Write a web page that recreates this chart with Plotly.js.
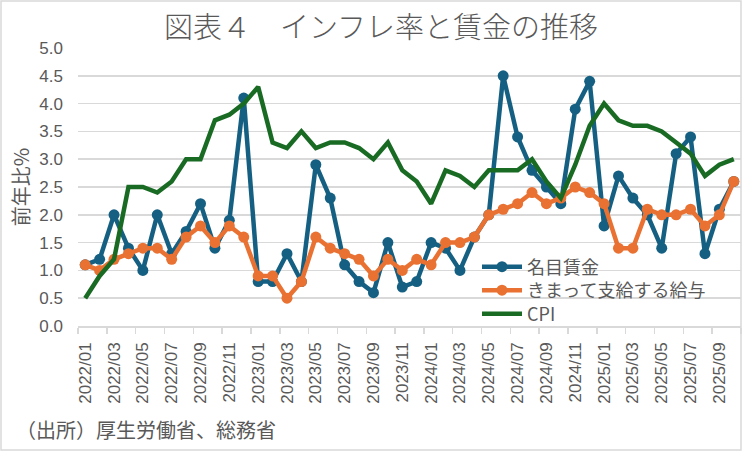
<!DOCTYPE html>
<html>
<head>
<meta charset="utf-8">
<script src="https://cdn.plot.ly/plotly-3.0.1.min.js"></script>
<style>
  html, body { margin: 0; padding: 0; background: #fff; }
  #chart { width: 742px; height: 451px; }
</style>
</head>
<body>
<div id="chart"></div>
<script>
/* -------------------- Data -------------------- */

const months = [
  "2022/01", "2022/02", "2022/03", "2022/04", "2022/05", "2022/06",
  "2022/07", "2022/08", "2022/09", "2022/10", "2022/11", "2022/12",
  "2023/01", "2023/02", "2023/03", "2023/04", "2023/05", "2023/06",
  "2023/07", "2023/08", "2023/09", "2023/10", "2023/11", "2023/12",
  "2024/01", "2024/02", "2024/03", "2024/04", "2024/05", "2024/06",
  "2024/07", "2024/08", "2024/09", "2024/10", "2024/11", "2024/12",
  "2025/01", "2025/02", "2025/03", "2025/04", "2025/05", "2025/06",
  "2025/07", "2025/08", "2025/09", "2025/10",
];

// 名目賃金
const nominalWage = [
  1.1, 1.2, 2.0, 1.4, 1.0, 2.0, 1.3, 1.7, 2.2, 1.4, 1.9, 4.1,
  0.8, 0.8, 1.3, 0.8, 2.9, 2.3, 1.1, 0.8, 0.6, 1.5, 0.7, 0.8,
  1.5, 1.4, 1.0, 1.6, 2.0, 4.5, 3.4, 2.8, 2.5, 2.2, 3.9, 4.4,
  1.8, 2.7, 2.3, 2.0, 1.4, 3.1, 3.4, 1.3, 2.1, 2.6,
];

// きまって支給する給与
const scheduledPay = [
  1.1, 1.0, 1.2, 1.3, 1.4, 1.4, 1.2, 1.6, 1.8, 1.5, 1.8, 1.6,
  0.9, 0.9, 0.5, 0.8, 1.6, 1.4, 1.3, 1.2, 0.9, 1.2, 1.0, 1.2,
  1.1, 1.5, 1.5, 1.6, 2.0, 2.1, 2.2, 2.4, 2.2, 2.3, 2.5, 2.4,
  2.2, 1.4, 1.4, 2.1, 2.0, 2.0, 2.1, 1.8, 2.0, 2.6,
];

// CPI
const cpi = [
  0.5, 0.9, 1.2, 2.5, 2.5, 2.4, 2.6, 3.0, 3.0, 3.7, 3.8, 4.0,
  4.3, 3.3, 3.2, 3.5, 3.2, 3.3, 3.3, 3.2, 3.0, 3.3, 2.8, 2.6,
  2.2, 2.8, 2.7, 2.5, 2.8, 2.8, 2.8, 3.0, 2.6, 2.3, 2.9, 3.6,
  4.0, 3.7, 3.6, 3.6, 3.5, 3.3, 3.1, 2.7, 2.9, 3.0,
];

const seriesNames = ["名目賃金", "きまって支給する給与", "CPI"];

/* -------------------- Layout helpers -------------------- */

const W = 742, H = 451;
const M = { l: 78, r: 1, t: 48, b: 125 };
const plotW = W - M.l - M.r;
const plotH = H - M.t - M.b;
const GRAY = "#d9d9d9";
const TEXT = "#595959";
const JP = "'Noto Sans CJK JP', 'Noto Sans', sans-serif";
const NUM = "'Liberation Sans', Arial, sans-serif";

// pixel -> paper fraction
const px = (x) => (x - M.l) / plotW;
const py = (y) => (H - M.b - y) / plotH;

const idx = months.map((_, i) => i);
const tickIdx = idx.filter((i) => i % 2 === 0);

/* -------------------- Traces -------------------- */

function lineTrace(name, values, color, withMarkers, legendId) {
  return {
    x: idx,
    y: values,
    name: name,
    type: "scatter",
    mode: withMarkers ? "lines+markers" : "lines",
    line: { color: color, width: 4.5 },
    marker: { color: color, size: 11 },
    legend: legendId,
    hoverinfo: "skip",
  };
}

const traces = [
  lineTrace(seriesNames[0], nominalWage, "#156082", true, "legend"),
  lineTrace(seriesNames[1], scheduledPay, "#E97132", true, "legend2"),
  lineTrace(seriesNames[2], cpi, "#196B24", false, "legend3"),
];

// one legend box per row so the rows sit as tight as in the source
function legendRow(centerY) {
  return {
    x: px(477),
    xanchor: "left",
    y: py(centerY),
    yanchor: "middle",
    bgcolor: "rgba(0,0,0,0)",
    borderwidth: 0,
    itemwidth: 40,
    font: { family: JP, size: 18, color: TEXT },
  };
}

const layout = {
  width: W,
  height: H,
  margin: { l: M.l, r: M.r, t: M.t, b: M.b, pad: 0 },
  paper_bgcolor: "#fff",
  plot_bgcolor: "#fff",
  font: { family: JP, color: TEXT },
  title: {
    text: "図表４　インフレ率と賃金の推移",
    font: { family: JP, size: 29, color: TEXT, weight: 300 },
    xref: "container",
    x: 381 / W,
    xanchor: "center",
    yref: "container",
    y: 1 - 28 / H,
    yanchor: "middle",
  },
  xaxis: {
    range: [-0.5, months.length - 0.5],
    tickmode: "array",
    tickvals: tickIdx,
    ticktext: tickIdx.map((i) => months[i]),
    tickangle: -90,
    tickfont: { family: NUM, size: 17, color: TEXT },
    ticks: "",
    ticklabelstandoff: 8,
    minor: {
      tickmode: "linear",
      tick0: -0.5,
      dtick: 2,
      ticks: "outside",
      ticklen: 6,
      tickwidth: 1.5,
      tickcolor: GRAY,
      showgrid: false,
    },
    showgrid: false,
    zeroline: false,
    showline: true,
    linecolor: GRAY,
    linewidth: 1.5,
    fixedrange: true,
  },
  yaxis: {
    range: [0, 5],
    tick0: 0,
    dtick: 0.5,
    tickformat: ".1f",
    tickfont: { family: NUM, size: 17, color: TEXT },
    ticks: "",
    ticklabelstandoff: 14,
    showgrid: true,
    gridcolor: GRAY,
    gridwidth: 1.5,
    zeroline: false,
    showline: false,
    title: {
      text: "前年比%",
      font: { family: JP, size: 20, color: TEXT },
      standoff: 4,
    },
    fixedrange: true,
  },
  legend: legendRow(267),
  legend2: legendRow(290.5),
  legend3: legendRow(314),
  annotations: [
    {
      text: "（出所）厚生労働省、総務省",
      xref: "paper",
      yref: "paper",
      x: px(14),
      y: py(430),
      xanchor: "left",
      yanchor: "middle",
      showarrow: false,
      font: { family: JP, size: 20, color: TEXT },
    },
  ],
  shapes: [
    {
      type: "rect",
      xref: "paper",
      yref: "paper",
      x0: px(1),
      x1: px(741),
      y0: py(450),
      y1: py(1),
      line: { color: GRAY, width: 1.5 },
      fillcolor: "rgba(0,0,0,0)",
      layer: "below",
    },
  ],
  showlegend: true,
};

Plotly.newPlot("chart", traces, layout, {
  staticPlot: true,
  displayModeBar: false,
  responsive: false,
});
</script>
</body>
</html>
